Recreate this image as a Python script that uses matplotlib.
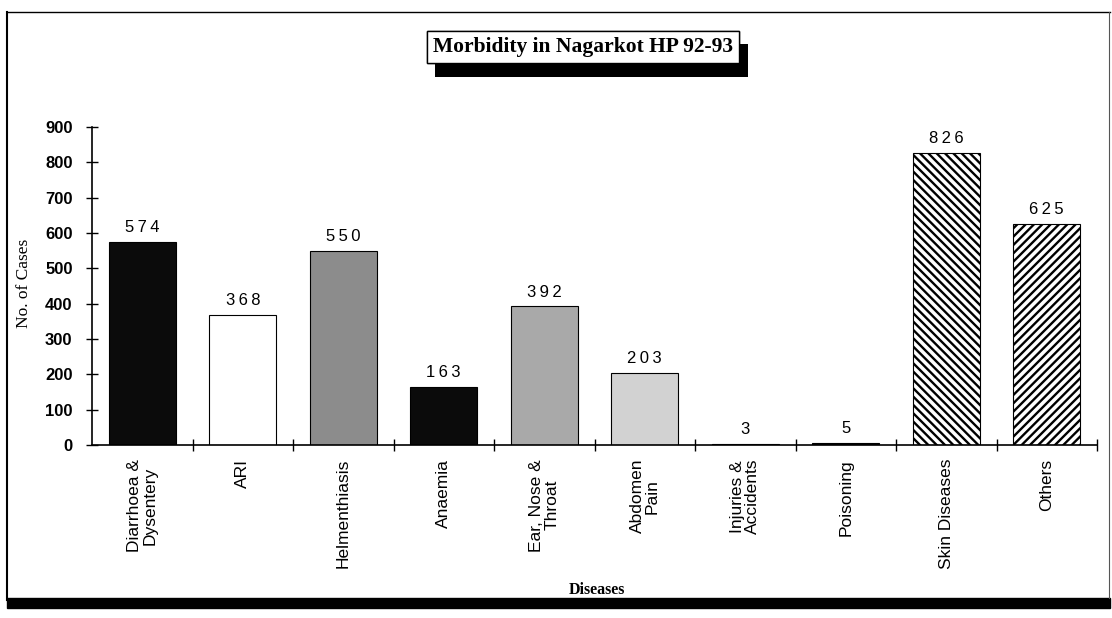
import matplotlib
matplotlib.use("Agg")
import matplotlib.pyplot as plt
import matplotlib.patheffects as pe
from matplotlib.lines import Line2D
from matplotlib.patches import Rectangle
import numpy as np

# Morbidity data
diseases = [
    "Diarrhoea &\nDysentery", "ARI", "Helmenthiasis", "Anaemia",
    "Ear, Nose &\nThroat", "Abdomen\nPain", "Injuries &\nAccidents",
    "Poisoning", "Skin Diseases", "Others",
]
cases = [574, 368, 550, 163, 392, 203, 3, 5, 826, 625]

faces = ["#0b0b0b", "white", "#8c8c8c", "#0b0b0b", "#a9a9a9",
         "#d2d2d2", "black", "black", "white", "white"]
hatches = [None, None, None, None, None, None, None, None, "\\\\\\\\", "////"]

y_ticks = list(range(0, 1000, 100))

plt.rcParams["hatch.linewidth"] = 1.7
plt.rcParams["font.family"] = ["Liberation Sans", "DejaVu Sans"]

W, H = 1112, 618
fig = plt.figure(figsize=(W / 100, H / 100), dpi=100)
ax = fig.add_axes([92 / W, 1 - 445 / H, (1097 - 92) / W, (445 - 127) / H])

x = np.arange(len(cases))
bars = ax.bar(x, cases, width=0.67, color=faces, edgecolor="black",
              linewidth=0.8)
for b, h in zip(bars, hatches):
    if h:
        b.set_hatch(h)

# letter-spaced value labels like the original
for xi, v in zip(x, cases):
    ax.annotate("\u2009".join(str(v)), (xi, v),
                xytext=(0, 5), textcoords="offset points",
                ha="center", va="bottom", fontsize=12)

ax.set_xlim(-0.5, len(cases) - 0.5)
ax.set_ylim(0, 900)
ax.set_yticks(y_ticks)
ax.set_yticklabels([str(t) for t in y_ticks], fontsize=12, fontweight="bold")

ax.set_xticks(x)
ax.set_xticklabels(diseases, rotation=90, fontsize=12.5, ha="center",
                   va="top", multialignment="center", linespacing=1.0)
ax.set_xticks(np.arange(0.5, len(cases) - 0.5 + 1, 1.0), minor=True)
ax.tick_params(axis="x", which="major", length=0, pad=10)
ax.tick_params(axis="x", which="minor", length=8, direction="inout", width=1)
ax.tick_params(axis="y", length=8, direction="inout", width=1, pad=10)

for side in ["top", "right"]:
    ax.spines[side].set_visible(False)
ax.spines["left"].set_linewidth(1.2)
ax.spines["bottom"].set_linewidth(1.2)

ax.set_ylabel("No. of Cases", family="Liberation Serif", fontsize=12.5)
ax.yaxis.set_label_coords(-60 / (1097 - 92), (445 - 283) / (445 - 127))
fig.text(597 / W, 1 - 590 / H, "Diseases", family="Liberation Serif",
         fontweight="bold", fontsize=11.5, ha="center", va="center")

# title box with black drop shadow
t = fig.text(583 / W, 1 - 47 / H, "Morbidity in Nagarkot HP 92-93",
             family="Liberation Serif", fontweight="bold", fontsize=15.5,
             ha="center", va="center",
             bbox=dict(boxstyle="square,pad=0.3", facecolor="white",
                       edgecolor="black", linewidth=1.0))
t.get_bbox_patch().set_path_effects([
    pe.withSimplePatchShadow(offset=(6, -10), shadow_rgbFace="black", alpha=1.0),
    pe.Normal(),
])

# outer page frame
fig.add_artist(Line2D([7 / W, 7 / W], [1 - 12 / H, 1 - 600 / H],
                      transform=fig.transFigure, color="black", lw=1.5))
fig.add_artist(Line2D([7 / W, 1110 / W], [1 - 12 / H, 1 - 12 / H],
                      transform=fig.transFigure, color="black", lw=1.0))
fig.add_artist(Line2D([1109 / W, 1109 / W], [1 - 12 / H, 1 - 598 / H],
                      transform=fig.transFigure, color="#555555", lw=0.8))
fig.add_artist(Rectangle((7 / W, 1 - 608 / H), (1110 - 7) / W, 10 / H,
                         transform=fig.transFigure, color="black"))

fig.savefig("out.png", dpi=100)
